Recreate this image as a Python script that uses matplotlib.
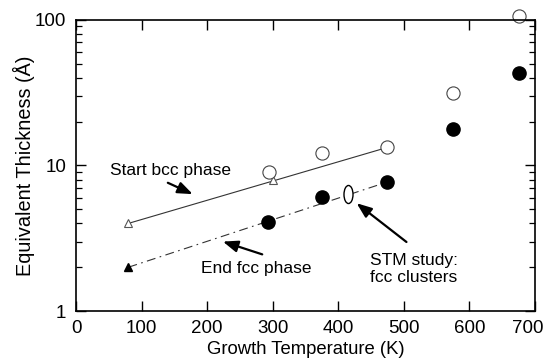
import matplotlib.pyplot as plt
from matplotlib.path import Path
from matplotlib.transforms import Affine2D, ScaledTranslation
from matplotlib.ticker import LogLocator, NullFormatter, FixedLocator

plt.rcParams['font.family'] = ['Liberation Sans', 'DejaVu Sans']

# start of bcc phase (open markers)
bcc_tri_T = [80, 300]
bcc_tri_d = [4.0, 8.0]
bcc_circ_T = [295, 375, 475, 575, 675]
bcc_circ_d = [9.0, 12.2, 13.4, 31.5, 107]

# end of fcc phase (filled markers)
fcc_tri_T = [80]
fcc_tri_d = [2.0]
fcc_circ_T = [293, 375, 475, 575, 675]
fcc_circ_d = [4.1, 6.1, 7.7, 17.8, 43]

# trend lines
bcc_line_T = [80, 475]
bcc_line_d = [4.0, 13.3]
fcc_line_T = [80, 475]
fcc_line_d = [2.0, 7.7]

# STM cluster point
stm_T = [415]
stm_d = [6.4]

fig = plt.figure(figsize=(5.47, 3.6), dpi=100)
ax = fig.add_axes([0.139, 0.136, 0.839, 0.809])

ax.plot(bcc_line_T, bcc_line_d, color='#333333', lw=0.8)
ax.plot(fcc_line_T, fcc_line_d, color='#333333', lw=0.8, dashes=(8, 4, 1.5, 4))

ax.plot(bcc_tri_T, bcc_tri_d, '^', ms=6, mfc='white', mec='#555555', mew=0.8)
ax.plot(bcc_circ_T, bcc_circ_d, 'o', ms=9.5, mfc='white', mec='#444444', mew=0.8,
        clip_on=False)
ax.plot(fcc_tri_T, fcc_tri_d, '^', ms=6, color='black')
ax.plot(fcc_circ_T, fcc_circ_d, 'o', ms=9.5, color='black')

ellipse = Path.unit_circle().transformed(Affine2D().scale(0.5, 1.0))
ax.plot(stm_T, stm_d, marker=ellipse, ms=13, ls='none', mfc='white',
        mec='black', mew=1.0)

arrow = dict(arrowstyle='-|>,head_length=0.9,head_width=0.35', color='black', lw=1.6,
             shrinkA=0, shrinkB=0)
ax.text(52, 9.2, 'Start bcc phase', fontsize=12.5, ha='left', va='center')
ax.annotate('', xy=(178, 6.35), xytext=(140, 7.6), arrowprops=arrow)
ax.text(190, 1.95, 'End fcc phase', fontsize=12.5, ha='left', va='center')
ax.annotate('', xy=(224, 3.0), xytext=(284, 2.45), arrowprops=arrow)
ax.text(449, 1.94, 'STM study:\nfcc clusters', fontsize=12.5, ha='left', va='center',
        linespacing=1.2)
ax.annotate('', xy=(428, 5.5), xytext=(504, 2.98), arrowprops=arrow)

ax.set_yscale('log')
ax.set_xlim(0, 700)
ax.set_ylim(1, 100)
ax.xaxis.set_major_locator(FixedLocator([0, 100, 200, 300, 400, 500, 600, 700]))
ax.yaxis.set_major_locator(FixedLocator([1, 10, 100]))
ax.yaxis.set_major_formatter(plt.FuncFormatter(lambda v, p: f'{v:g}'))
ax.yaxis.set_minor_locator(LogLocator(base=10, subs=range(2, 10)))
ax.yaxis.set_minor_formatter(NullFormatter())

ax.tick_params(axis='both', which='major', direction='in', length=7, width=1.0,
               labelsize=13.5, top=True, right=True)
ax.tick_params(axis='y', which='minor', direction='in', length=4, width=0.9,
               left=True, right=True)
ax.tick_params(axis='x', which='major', pad=6.5)
ax.tick_params(axis='y', which='major', pad=7)

# keep the last x label inside the figure
fig.canvas.draw()
last = ax.get_xticklabels()[-1]
last.set_transform(last.get_transform() + ScaledTranslation(-0.07, 0, fig.dpi_scale_trans))

for s in ax.spines.values():
    s.set_linewidth(1.2)

ax.set_xlabel('Growth Temperature (K)', fontsize=13.3, labelpad=3)
ax.set_ylabel('Equivalent Thickness (Å)', fontsize=14.3, labelpad=0)

fig.savefig('out.png', dpi=100)
